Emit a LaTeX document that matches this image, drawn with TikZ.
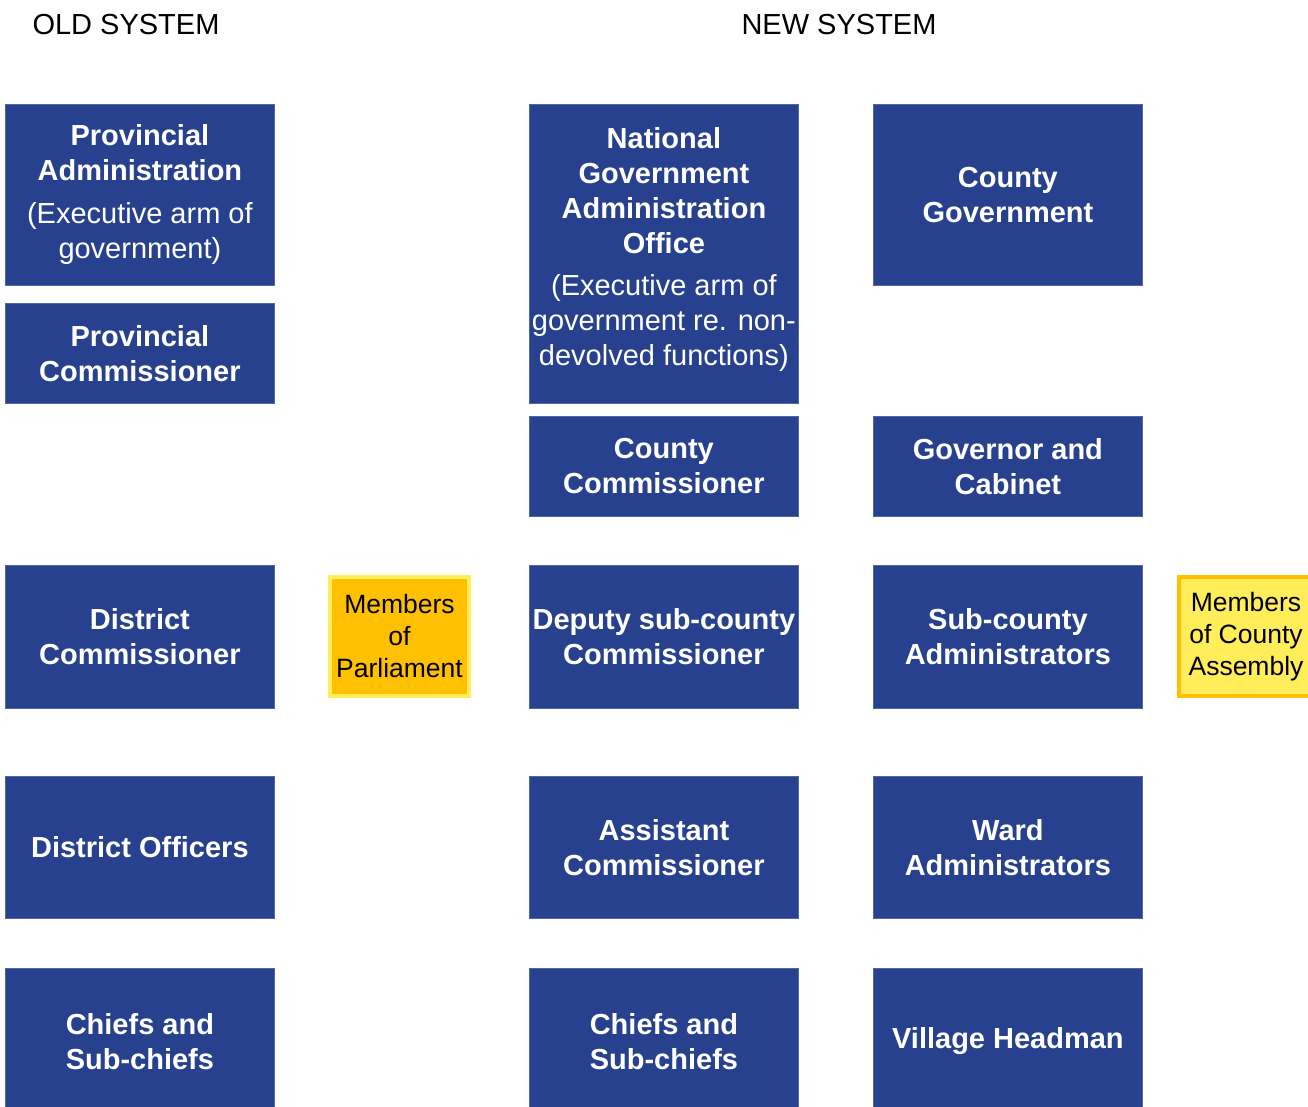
\documentclass[tikz,border=0pt]{standalone}
\usepackage{fontspec}
\setmainfont{Liberation Sans}
\definecolor{boxblue}{RGB}{39,65,142}
\definecolor{boxedge}{RGB}{80,104,170}
\definecolor{gold}{RGB}{255,192,0}
\definecolor{lightyel}{RGB}{255,238,90}
\begin{document}
\begin{tikzpicture}[x=1pt,y=-1pt,
  bluebox/.style={rectangle, fill=boxblue, draw=boxedge, line width=0.8pt, anchor=north west,
    inner sep=0pt, text=white, align=center, font=\fontsize{29}{35}\selectfont\bfseries},
  mpbox/.style={rectangle, fill=gold, draw=lightyel, line width=4pt, anchor=north west,
    inner sep=0pt, text=black, align=center, font=\fontsize{26.5}{32}\selectfont},
  mcabox/.style={rectangle, fill=lightyel, draw=gold, line width=4pt, anchor=north west,
    inner sep=0pt, text=black, align=center, font=\fontsize{26.5}{32}\selectfont},
  header/.style={font=\fontsize{29}{35}\selectfont, text=black}]
\useasboundingbox (0,0) rectangle (1308,1106);
\clip (0,0) rectangle (1308,1106);
\fill[white] (0,0) rectangle (1308,1106);
% headers
\node[header] (oldh) at (126,25) {OLD SYSTEM};
\node[header] (newh) at (839,25) {NEW SYSTEM};
% old system
\node[bluebox, minimum width=269pt, minimum height=181pt] (pa) at (5,104)
  {Provincial\\Administration\\[8pt]{\mdseries(Executive arm of}\\{\mdseries government)}};
\node[bluebox, minimum width=269pt, minimum height=100pt] (pc) at (5,303)
  {Provincial\\Commissioner};
\node[bluebox, minimum width=269pt, minimum height=143pt] (dc) at (5,565)
  {District\\Commissioner};
\node[bluebox, minimum width=269pt, minimum height=142pt] (do) at (5,776)
  {District Officers};
\node[bluebox, minimum width=269pt, minimum height=146pt] (cho) at (5,968)
  {Chiefs and\\Sub-chiefs};
\node[mpbox, minimum width=139pt, minimum height=119pt] (mp) at (328,575)
  {Members\\of\\Parliament};
% new system - national
\node[bluebox, minimum width=269pt, minimum height=299pt] (ngao) at (529,104)
  {National\\Government\\Administration\\Office\\[7pt]{\mdseries(Executive arm of}\\{\mdseries government re. non-}\\{\mdseries devolved functions)}\\[-21pt]};
\node[bluebox, minimum width=269pt, minimum height=100pt] (cc) at (529,416)
  {County\\Commissioner};
\node[bluebox, minimum width=269pt, minimum height=143pt] (dsc) at (529,565)
  {Deputy sub-county\\Commissioner};
\node[bluebox, minimum width=269pt, minimum height=142pt] (ac) at (529,776)
  {Assistant\\Commissioner};
\node[bluebox, minimum width=269pt, minimum height=146pt] (chn) at (529,968)
  {Chiefs and\\Sub-chiefs};
% new system - county
\node[bluebox, minimum width=269pt, minimum height=181pt] (cg) at (873,104)
  {County\\Government};
\node[bluebox, minimum width=269pt, minimum height=100pt] (gc) at (873,416)
  {Governor and\\Cabinet};
\node[bluebox, minimum width=269pt, minimum height=143pt] (sca) at (873,565)
  {Sub-county\\Administrators};
\node[bluebox, minimum width=269pt, minimum height=142pt] (wa) at (873,776)
  {Ward\\Administrators};
\node[bluebox, minimum width=269pt, minimum height=146pt] (vh) at (873,968)
  {Village Headman};
\node[mcabox, minimum width=134pt, minimum height=119pt] (mca) at (1177,575)
  {Members\\of County\\Assembly};
\end{tikzpicture}
\end{document}
